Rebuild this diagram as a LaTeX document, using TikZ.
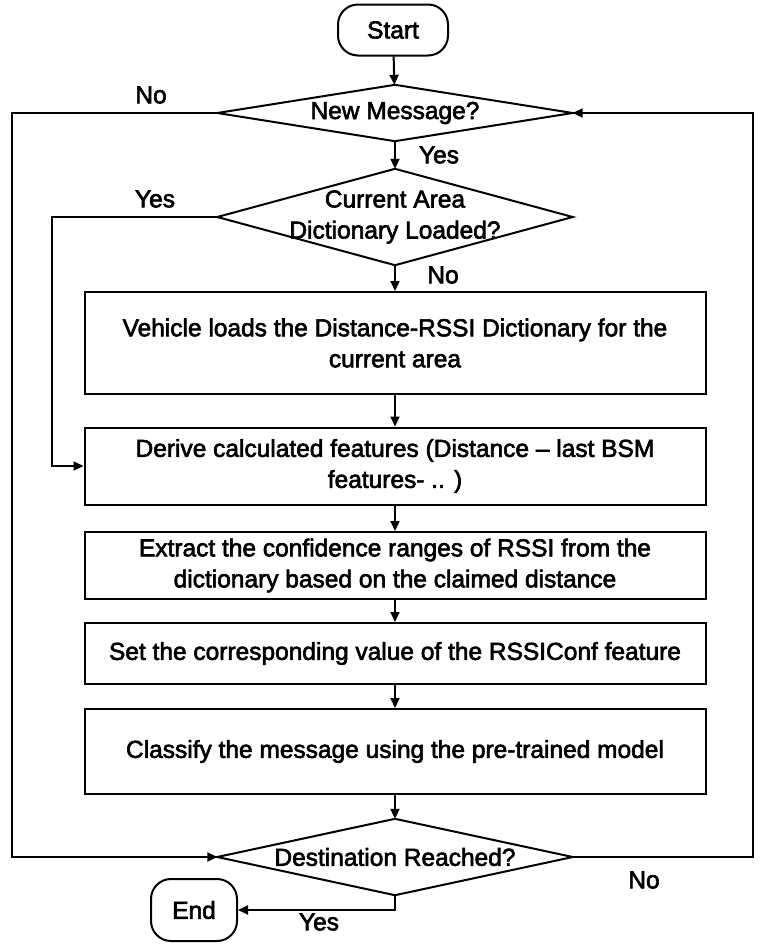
\documentclass[tikz,border=0pt]{standalone}
\usepackage{fontspec}
\setmainfont{Liberation Sans}[FakeBold=2.5]
\usetikzlibrary{arrows.meta}
\begin{document}
\begin{tikzpicture}[x=1pt,y=-1pt,
  every node/.style={font=\fontsize{24.5}{31}\selectfont},
  stepbox/.style={draw,line width=2pt,minimum width=621pt,align=center,inner sep=0pt},
  decision/.style={minimum width=355pt,inner sep=0pt,align=center},
  term/.style={draw,rounded corners=20pt,line width=2pt,inner sep=0pt},
  arr/.style={line width=2pt,-{Triangle[length=10pt,width=9pt]}},
  dline/.style={line width=2pt,line join=miter},
  lbl/.style={inner sep=0pt}]
\useasboundingbox (0,0) rectangle (762,951);
\node[term,minimum width=110pt,minimum height=51pt] (start) at (393,30) {Start};
\node[decision,minimum height=56pt] (nm) at (395,113) {New Message?};
\node[decision,minimum height=96pt] (ca) at (395,217) {Current Area\\Dictionary Loaded?};
\node[stepbox,minimum height=102pt] (b1) at (395,343) {Vehicle loads the Distance-RSSI Dictionary for the\\current area};
\node[stepbox,minimum height=77pt] (b2) at (395,466) {Derive calculated features (Distance -- last BSM\\features- .. )};
\node[stepbox,minimum height=67pt] (b3) at (395,565.5) {Extract the confidence ranges of RSSI from the\\dictionary based on the claimed distance};
\node[stepbox,minimum height=61pt] (b4) at (395,653.5) {Set the corresponding value of the RSSIConf feature};
\node[stepbox,minimum height=85pt] (b5) at (395,751.5) {Classify the message using the pre-trained model};
\node[decision,minimum height=76pt] (dr) at (395,857) {Destination Reached?};
\node[term,minimum width=86pt,minimum height=62pt] (end) at (194,910) {End};
\foreach \d in {nm,ca,dr}
  \draw[dline] (\d.west) -- (\d.north) -- (\d.east) -- (\d.south) -- cycle;
\coordinate (lft) at (12,500);
\coordinate (rgt) at (753,500);
\coordinate (yl) at (52,300);
\draw[arr] (start) -- (nm);
\draw[arr] (nm) -- (ca);
\draw[arr] (ca) -- (b1);
\draw[arr] (b1) -- (b2);
\draw[arr] (b2) -- (b3);
\draw[arr] (b3) -- (b4);
\draw[arr] (b4) -- (b5);
\draw[arr] (b5) -- (dr);
\draw[arr] (nm.west) -| (lft) |- (dr.west);
\draw[arr] (dr.east) -| (rgt) |- (nm.east);
\draw[arr] (ca.west) -| (yl) |- (b2.west);
\draw[arr] (dr.south) |- (end.east);
\node[lbl] (l1) at (151,95) {No};
\node[lbl] (l2) at (439,155) {Yes};
\node[lbl] (l3) at (155,199) {Yes};
\node[lbl] (l4) at (443,275) {No};
\node[lbl] (l5) at (644,880) {No};
\node[lbl] (l6) at (319,922) {Yes};
\end{tikzpicture}
\end{document}
